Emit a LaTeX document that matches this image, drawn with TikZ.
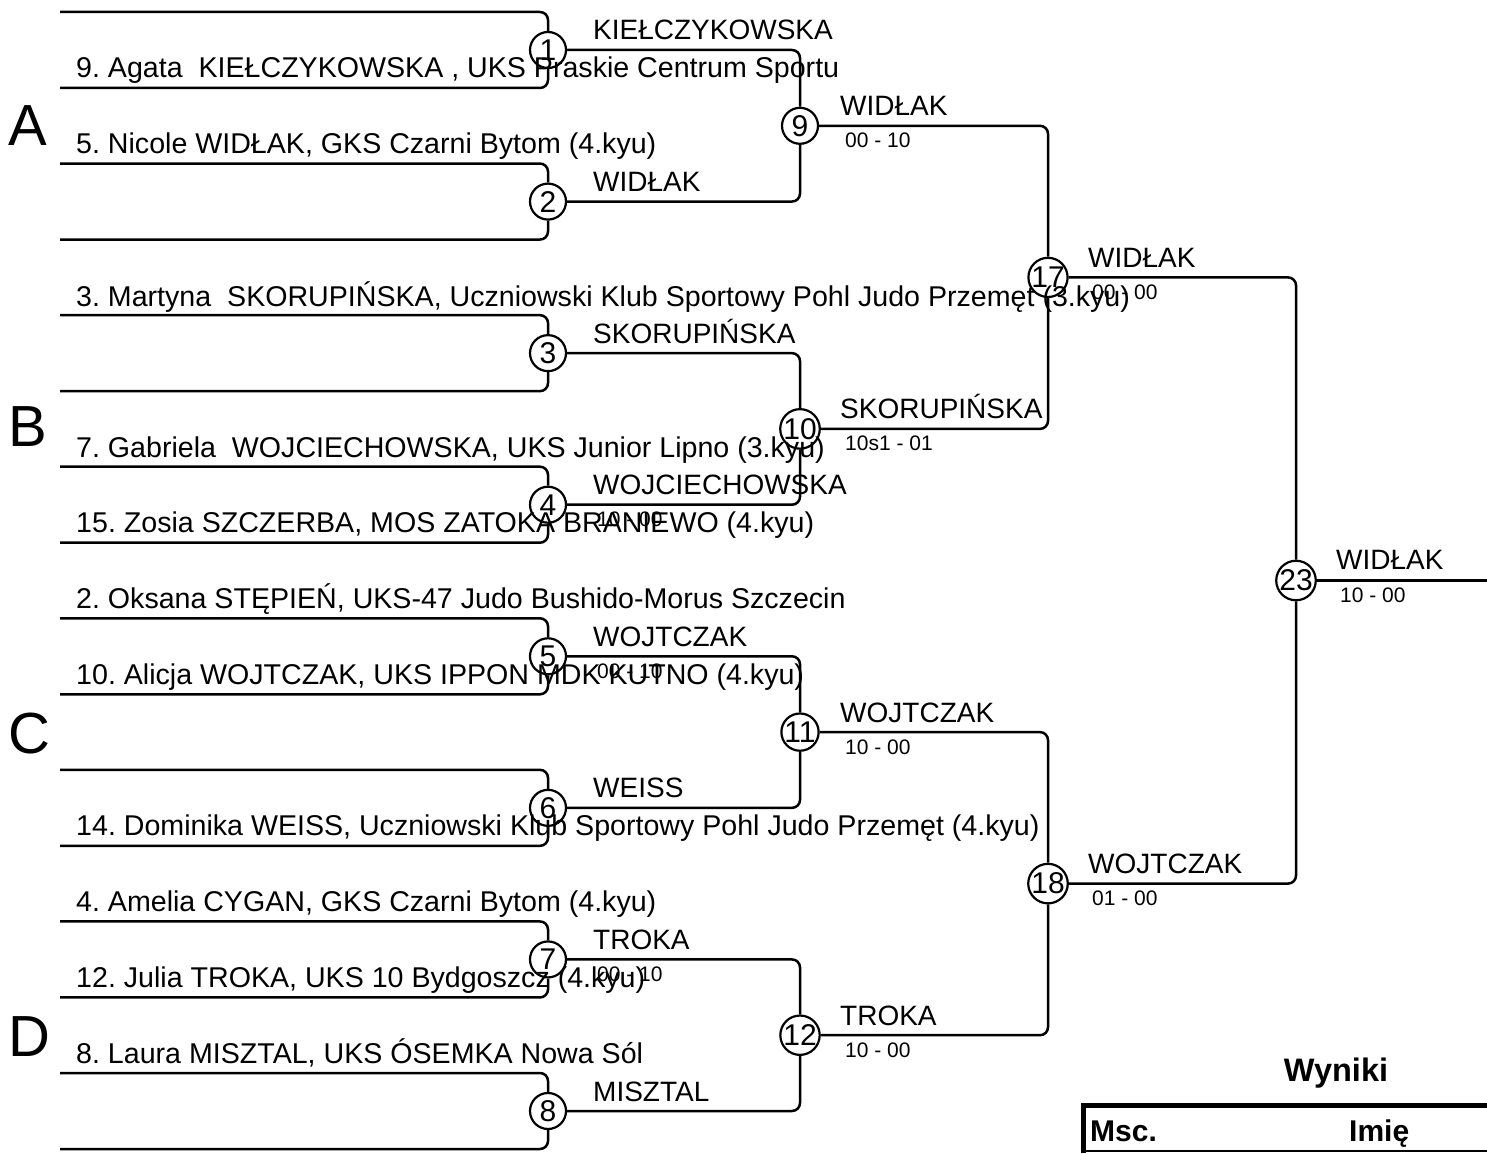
\documentclass[tikz,border=0pt]{standalone}
\usepackage{fontspec}
\setmainfont{Liberation Sans}
\frenchspacing
\begin{document}
\begin{tikzpicture}[x=1pt,y=-1pt,
  mc/.style={circle,draw,line width=2.2pt,minimum size=36pt,inner sep=0pt,font=\fontsize{30}{30}\selectfont},
  wl/.style={anchor=base west,inner sep=0pt,font=\fontsize{28}{28}\selectfont},
  sc/.style={anchor=base west,inner sep=0pt,font=\fontsize{21}{21}\selectfont},
  pl/.style={anchor=base west,inner sep=0pt,font=\fontsize{28.6}{28.6}\selectfont},
  grp/.style={anchor=base west,inner sep=0pt,font=\fontsize{58}{58}\selectfont},
  br/.style={line width=2.5pt,rounded corners=8pt},
  hd/.style={anchor=base west,inner sep=0pt,font=\bfseries\fontsize{30}{30}\selectfont},
]
\useasboundingbox (0,0) rectangle (1487,1153);

% round 1
\foreach \k in {1,...,8} {
  \pgfmathsetmacro\yc{50+(\k-1)*151.57}
  \node[mc] (m\k) at (548,\yc) {\k};
  \coordinate (t\k) at (60,\yc-38);
  \coordinate (b\k) at (60,\yc+38);
  \draw[br] (t\k) -| (m\k.north);
  \draw[br] (b\k) -| (m\k.south);
}

% round 2
\node[mc] (m9)  at (800,125.8) {9};
\node[mc] (m10) at (800,428.9) {10};
\node[mc] (m11) at (800,732.1) {11};
\node[mc] (m12) at (800,1035.2) {12};
% round 3
\node[mc] (m17) at (1048,277.4) {17};
\node[mc] (m18) at (1048,883.6) {18};
% final
\node[mc] (m23) at (1296,580.5) {23};
\coordinate (fin) at (1487,580.5);

\draw[br] (m1.east) -| (m9.north);
\draw[br] (m2.east) -| (m9.south);
\draw[br] (m3.east) -| (m10.north);
\draw[br] (m4.east) -| (m10.south);
\draw[br] (m5.east) -| (m11.north);
\draw[br] (m6.east) -| (m11.south);
\draw[br] (m7.east) -| (m12.north);
\draw[br] (m8.east) -| (m12.south);
\draw[br] (m9.east) -| (m17.north);
\draw[br] (m10.east) -| (m17.south);
\draw[br] (m11.east) -| (m18.north);
\draw[br] (m12.east) -| (m18.south);
\draw[br] (m17.east) -| (m23.north);
\draw[br] (m18.east) -| (m23.south);
\draw[br] (m23.east) -- (fin);

% competitors
\node[pl] (p1) at (76,78) {9. Agata\ \ KIEŁCZYKOWSKA , UKS Praskie Centrum Sportu};
\node[pl] (p2) at (76,153.6) {5. Nicole WIDŁAK, GKS Czarni Bytom (4.kyu)};
\node[pl] (p3) at (76,306) {3. Martyna\ \ SKORUPIŃSKA, Uczniowski Klub Sportowy Pohl Judo Przemęt (3.kyu)};
\node[pl] (p4) at (76,457.5) {7. Gabriela\ \ WOJCIECHOWSKA, UKS Junior Lipno (3.kyu)};
\node[pl] (p5) at (76,532.7) {15. Zosia SZCZERBA, MOS ZATOKA BRANIEWO (4.kyu)};
\node[pl] (p6) at (76,608.3) {2. Oksana STĘPIEŃ, UKS-47 Judo Bushido-Morus Szczecin};
\node[pl] (p7) at (76,684.3) {10. Alicja WOJTCZAK, UKS IPPON MDK KUTNO (4.kyu)};
\node[pl] (p8) at (76,835.9) {14. Dominika WEISS, Uczniowski Klub Sportowy Pohl Judo Przemęt (4.kyu)};
\node[pl] (p9) at (76,911.4) {4. Amelia CYGAN, GKS Czarni Bytom (4.kyu)};
\node[pl] (p10) at (76,987.4) {12. Julia TROKA, UKS 10 Bydgoszcz (4.kyu)};
\node[pl] (p11) at (76,1063) {8. Laura MISZTAL, UKS ÓSEMKA Nowa Sól};

% group letters
\node[grp] (gA) at (8,146) {A};
\node[grp] (gB) at (8,446) {B};
\node[grp] (gC) at (8,753) {C};
\node[grp] (gD) at (8,1056) {D};

% round 1 winners
\node[wl] (w1) at (593,40) {KIEŁCZYKOWSKA};
\node[wl] (w2) at (593,191.6) {WIDŁAK};
\node[wl] (w3) at (593,343.1) {SKORUPIŃSKA};
\node[wl] (w4) at (593,494.7) {WOJCIECHOWSKA};
\node[wl] (w5) at (593,646.3) {WOJTCZAK};
\node[wl] (w6) at (593,797.9) {WEISS};
\node[wl] (w7) at (593,949.4) {TROKA};
\node[wl] (w8) at (593,1101) {MISZTAL};
\node[sc] (s4) at (597,526.7) {10 - 00};
\node[sc] (s5) at (597,678.3) {00 - 10};
\node[sc] (s7) at (597,981.4) {00 - 10};

% round 2 winners
\node[wl] (w9) at (840,115.8) {WIDŁAK};
\node[wl] (w10) at (840,418.9) {SKORUPIŃSKA};
\node[wl] (w11) at (840,722.1) {WOJTCZAK};
\node[wl] (w12) at (840,1025.2) {TROKA};
\node[sc] (s9) at (845,147.8) {00 - 10};
\node[sc] (s10) at (845,450.9) {10s1 - 01};
\node[sc] (s11) at (845,754.1) {10 - 00};
\node[sc] (s12) at (845,1057.2) {10 - 00};

% round 3
\node[wl] (w17) at (1088,267.4) {WIDŁAK};
\node[wl] (w18) at (1088,873.6) {WOJTCZAK};
\node[sc] (s17) at (1092,299.4) {00 - 00};
\node[sc] (s18) at (1092,905.6) {01 - 00};

% final
\node[wl] (w23) at (1336,569) {WIDŁAK};
\node[sc] (s23) at (1340,602) {10 - 00};

% results table
\node[anchor=base,inner sep=0pt,font=\bfseries\fontsize{32.5}{32.5}\selectfont] (wyn) at (1336,1081) {Wyniki};
\coordinate (tbl) at (1083,1153);
\coordinate (ttl) at (1083,1105);
\coordinate (ttr) at (1487,1105);
\coordinate (tbbl) at (1083,1151);
\coordinate (tbbr) at (1487,1151);
\draw[line width=5pt] (tbl) -- (ttl) -- (ttr);
\draw[line width=2pt] (tbbl) -- (tbbr);
\node[hd] (hmsc) at (1090,1141) {Msc.};
\node[hd] (himie) at (1349,1141) {Imię};
\end{tikzpicture}
\end{document}
